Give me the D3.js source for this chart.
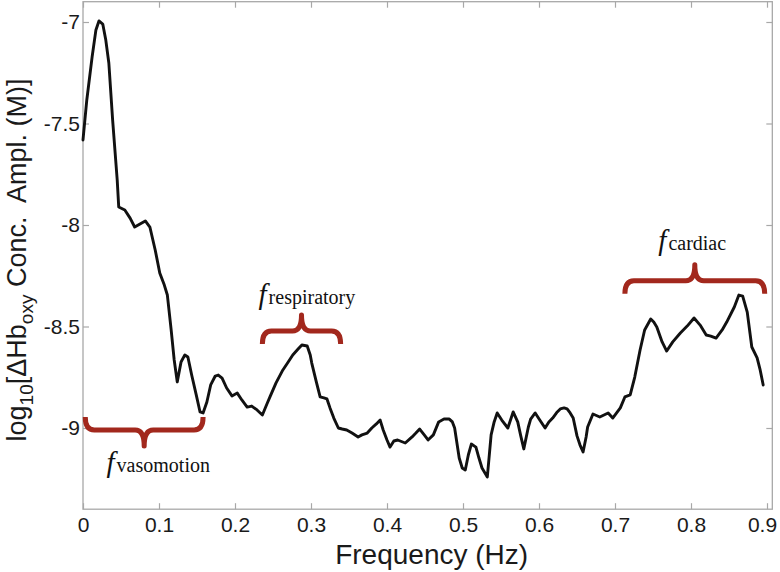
<!DOCTYPE html>
<html>
<head>
<meta charset="utf-8">
<script src="https://cdn.jsdelivr.net/npm/d3@7"></script>
<style>
  html, body { margin: 0; padding: 0; background: #fff; }
  svg { display: block; }
</style>
</head>
<body>
<svg id="chart" width="780" height="572"></svg>
<script>
// ---------- data ----------
const freq = [0.000,0.005,0.012,0.017,0.021,0.026,0.030,0.034,0.039,0.045,0.047,0.055,0.062,0.068,0.075,0.082,0.088,0.095,0.101,0.107,0.111,0.116,0.120,0.124,0.129,0.134,0.138,0.143,0.149,0.154,0.158,0.163,0.168,0.174,0.178,0.183,0.189,0.196,0.203,0.209,0.216,0.222,0.229,0.236,0.242,0.246,0.254,0.263,0.270,0.276,0.283,0.288,0.295,0.299,0.301,0.307,0.312,0.317,0.321,0.325,0.330,0.336,0.341,0.347,0.354,0.362,0.367,0.374,0.380,0.386,0.391,0.395,0.400,0.404,0.409,0.414,0.424,0.433,0.438,0.443,0.449,0.454,0.461,0.468,0.475,0.482,0.486,0.489,0.495,0.499,0.503,0.507,0.511,0.517,0.521,0.525,0.532,0.534,0.537,0.541,0.545,0.551,0.559,0.566,0.572,0.576,0.580,0.586,0.589,0.595,0.601,0.608,0.613,0.618,0.624,0.628,0.633,0.637,0.641,0.645,0.650,0.654,0.658,0.662,0.664,0.671,0.680,0.691,0.697,0.707,0.713,0.720,0.726,0.733,0.739,0.747,0.751,0.755,0.762,0.768,0.776,0.786,0.795,0.804,0.812,0.820,0.826,0.833,0.841,0.847,0.857,0.863,0.868,0.874,0.880,0.887,0.891,0.895];
const logAmp = [-7.581,-7.384,-7.172,-7.039,-6.995,-7.010,-7.089,-7.202,-7.483,-7.778,-7.911,-7.926,-7.966,-8.010,-7.995,-7.980,-8.010,-8.123,-8.236,-8.296,-8.345,-8.517,-8.665,-8.773,-8.675,-8.640,-8.650,-8.739,-8.837,-8.921,-8.926,-8.872,-8.788,-8.744,-8.739,-8.754,-8.803,-8.842,-8.828,-8.862,-8.897,-8.892,-8.911,-8.936,-8.882,-8.847,-8.778,-8.714,-8.675,-8.640,-8.611,-8.591,-8.596,-8.640,-8.680,-8.773,-8.847,-8.852,-8.857,-8.901,-8.951,-9.000,-9.005,-9.010,-9.025,-9.044,-9.034,-9.025,-9.000,-8.980,-8.961,-9.010,-9.059,-9.094,-9.064,-9.059,-9.074,-9.044,-9.025,-9.005,-9.034,-9.059,-9.034,-8.970,-8.956,-8.956,-8.970,-9.000,-9.148,-9.197,-9.207,-9.133,-9.079,-9.094,-9.148,-9.197,-9.241,-9.158,-9.034,-8.970,-8.926,-8.961,-9.000,-8.921,-8.970,-9.039,-9.103,-8.995,-8.956,-8.926,-8.961,-9.000,-8.970,-8.951,-8.921,-8.906,-8.901,-8.906,-8.926,-8.951,-9.039,-9.084,-9.118,-9.044,-8.995,-8.931,-8.946,-8.926,-8.951,-8.901,-8.847,-8.837,-8.749,-8.616,-8.517,-8.463,-8.478,-8.502,-8.576,-8.621,-8.576,-8.532,-8.498,-8.458,-8.493,-8.542,-8.547,-8.557,-8.517,-8.478,-8.404,-8.345,-8.350,-8.429,-8.601,-8.655,-8.714,-8.788];

const xTicks = [0, 0.1, 0.2, 0.3, 0.4, 0.5, 0.6, 0.7, 0.8, 0.9];
const xTickLabels = ["0","0.1","0.2","0.3","0.4","0.5","0.6","0.7","0.8","0.9"];
const yTicks = [-9, -8.5, -8, -7.5, -7];
const yTickLabels = ["-9","-8.5","-8","-7.5","-7"];

// frequency bands (annotation braces)
const bandNames  = ["vasomotion", "respiratory", "cardiac"];
const bandStart  = [0.003, 0.236, 0.713];
const bandEnd    = [0.158, 0.339, 0.897];
const bandLevel  = [-9.010, -8.522, -8.275];   // level of the brace bar
const bandOpens  = ["up", "down", "down"];     // direction of brace ends
const labelFreq  = [0.031, 0.231, 0.757];      // left of the "f" label
const labelLevel = [-9.217, -8.390, -8.125];   // baseline of the label

const xTitle = "Frequency (Hz)";

// ---------- layout ----------
const svg = d3.select("#chart");
const x = d3.scaleLinear().domain([0, 0.907]).range([83, 83 + 760 * 0.907]);
const y = d3.scaleLinear().domain([-9.4, -6.9]).range([509.2, 1.7]);
const [x0, x1] = x.range();
const [yb, yt] = y.range();

const frameColor = "#a8a8a8";
const sans = "'Liberation Sans', Arial, Helvetica, sans-serif";
const serif = "'Liberation Serif', 'Times New Roman', serif";

// frame
svg.append("rect")
  .attr("x", x0).attr("y", yt).attr("width", x1 - x0).attr("height", yb - yt)
  .attr("fill", "none").attr("stroke", frameColor).attr("stroke-width", 1.3);

function styleAxis(g) {
  g.select(".domain").remove();
  g.selectAll(".tick line").attr("stroke", frameColor).attr("stroke-width", 1.2);
  g.selectAll(".tick text").attr("fill", "#1a1a1a").attr("font-family", sans).attr("font-size", 21);
}

// bottom axis (inward ticks)
const gx = svg.append("g").attr("transform", `translate(0,${yb})`)
  .call(d3.axisBottom(x).tickValues(xTicks).tickFormat((d, i) => xTickLabels[i]).tickSizeInner(-6).tickSizeOuter(0).tickPadding(8))
  .call(styleAxis);
// keep the last label inside the picture
gx.selectAll(".tick text").filter((d, i, n) => i === n.length - 1).attr("dx", -5);
// top axis ticks
svg.append("g").attr("transform", `translate(0,${yt})`)
  .call(d3.axisTop(x).tickValues(xTicks).tickFormat("").tickSizeInner(-6).tickSizeOuter(0))
  .call(styleAxis);
// left axis
svg.append("g").attr("transform", `translate(${x0},0)`)
  .call(d3.axisLeft(y).tickValues(yTicks).tickFormat((d, i) => yTickLabels[i]).tickSizeInner(-6).tickSizeOuter(0).tickPadding(3))
  .call(styleAxis);
// right axis ticks
svg.append("g").attr("transform", `translate(${x1},0)`)
  .call(d3.axisRight(y).tickValues(yTicks).tickFormat("").tickSizeInner(-6).tickSizeOuter(0))
  .call(styleAxis);

// line
const pts = freq.map((f, i) => [f, logAmp[i]]);
svg.append("path")
  .datum(pts)
  .attr("fill", "none")
  .attr("stroke", "#111")
  .attr("stroke-width", 2.9)
  .attr("stroke-linejoin", "round")
  .attr("stroke-linecap", "round")
  .attr("d", d3.line().x(d => x(d[0])).y(d => y(d[1])));

// braces
const braceColor = "#a2281d";
bandNames.forEach((name, i) => {
  const xa = x(bandStart[i]), xb = x(bandEnd[i]), xc = (xa + xb) / 2;
  const yh = y(bandLevel[i]);
  const s = bandOpens[i] === "up" ? 1 : -1; // s=1: ends go up, tip goes down
  const endDy = -13 * s, tipDy = 16 * s, r = 9;
  const p = d3.path();
  p.moveTo(xa, yh + endDy);
  p.quadraticCurveTo(xa, yh, xa + r, yh);
  p.lineTo(xc - r, yh);
  p.quadraticCurveTo(xc, yh, xc, yh + tipDy);
  p.quadraticCurveTo(xc, yh, xc + r, yh);
  p.lineTo(xb - r, yh);
  p.quadraticCurveTo(xb, yh, xb, yh + endDy);
  svg.append("path").attr("d", p.toString())
    .attr("fill", "none").attr("stroke", braceColor).attr("stroke-width", 5)
    .attr("stroke-linejoin", "round");

  const t = svg.append("text")
    .attr("x", x(labelFreq[i])).attr("y", y(labelLevel[i]))
    .attr("font-family", serif).attr("fill", "#111");
  t.append("tspan").attr("font-style", "italic").attr("font-size", 29).text("f");
  t.append("tspan").attr("font-size", 20).attr("dx", 2).text(name);
});

// x title
svg.append("text")
  .attr("x", (x0 + x1) / 2 + 4).attr("y", 564)
  .attr("text-anchor", "middle")
  .attr("font-family", sans).attr("font-size", 28).attr("fill", "#1a1a1a")
  .text(xTitle);

// y title
const yt_ = svg.append("text")
  .attr("transform", `translate(26,260) rotate(-90)`)
  .attr("text-anchor", "middle")
  .attr("font-family", sans).attr("font-size", 27).attr("fill", "#1a1a1a")
  .style("white-space", "pre");
yt_.append("tspan").text("log");
yt_.append("tspan").attr("font-size", 19).attr("dy", 7).text("10");
yt_.append("tspan").attr("dy", -7).text("[\u0394Hb");
yt_.append("tspan").attr("font-size", 19).attr("dy", 7).text("oxy");
yt_.append("tspan").attr("dy", -7).text(" Conc.  Ampl. (M)]");
</script>
</body>
</html>
